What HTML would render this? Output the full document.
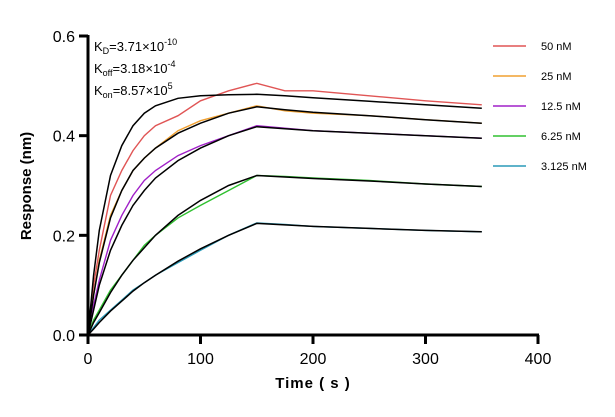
<!DOCTYPE html>
<html><head><meta charset="utf-8"><style>
body{margin:0;background:#fff;}
svg{font-family:"Liberation Sans",Arial,sans-serif;}
</style></head><body>
<svg id="chart" width="615" height="412" viewBox="0 0 615 412">
<g id="plot"></g>
<g id="axes"></g>
<g id="legend"></g>
<text x="94" y="51" font-size="13">K<tspan font-size="9" dy="3">D</tspan><tspan dy="-3">=3.71×10</tspan><tspan font-size="9" dy="-6">-10</tspan></text>
<text x="94" y="73" font-size="13">K<tspan font-size="9" dy="3">off</tspan><tspan dy="-3">=3.18×10</tspan><tspan font-size="9" dy="-6">-4</tspan></text>
<text x="94" y="95" font-size="13">K<tspan font-size="9" dy="3">on</tspan><tspan dy="-3">=8.57×10</tspan><tspan font-size="9" dy="-6">5</tspan></text>
</svg>
<script>
const times=[0,5,10,20,30,40,50,60,80,100,125,150,175,200,250,300,350];
const seriesNames=["50 nM","25 nM","12.5 nM","6.25 nM","3.125 nM"];
const seriesColors=["#e05555","#f0a030","#a020c8","#30c030","#2a9ab8"];
const data50=[0,0.1,0.17,0.28,0.33,0.37,0.40,0.42,0.44,0.47,0.49,0.505,0.49,0.49,0.48,0.47,0.462];
const data25=[0,0.08,0.15,0.24,0.29,0.33,0.355,0.375,0.41,0.43,0.445,0.46,0.45,0.445,0.44,0.432,0.425];
const data12=[0,0.06,0.11,0.19,0.24,0.28,0.31,0.33,0.36,0.38,0.40,0.42,0.415,0.41,0.405,0.40,0.395];
const data6=[0,0.03,0.05,0.09,0.12,0.15,0.18,0.2,0.235,0.26,0.29,0.32,0.318,0.315,0.31,0.303,0.298];
const data3=[0,0.015,0.03,0.05,0.07,0.09,0.105,0.12,0.145,0.17,0.2,0.225,0.222,0.218,0.214,0.21,0.207];
const fit50=[0,0.12,0.21,0.32,0.38,0.42,0.445,0.46,0.475,0.48,0.482,0.483,0.48,0.476,0.469,0.462,0.455];
const fit25=[0,0.08,0.145,0.235,0.29,0.33,0.355,0.375,0.405,0.425,0.445,0.458,0.452,0.447,0.44,0.432,0.425];
const fit12=[0,0.05,0.1,0.17,0.22,0.26,0.29,0.315,0.35,0.375,0.4,0.418,0.414,0.41,0.405,0.4,0.395];
const fit6=[0,0.025,0.045,0.085,0.12,0.15,0.175,0.2,0.24,0.27,0.3,0.32,0.317,0.314,0.309,0.303,0.298];
const fit3=[0,0.012,0.025,0.048,0.068,0.088,0.105,0.12,0.148,0.173,0.2,0.224,0.221,0.218,0.214,0.21,0.207];
const xTicks=[0,100,200,300,400];
const yTicks=[0,0.2,0.4,0.6];
const yTickLabels=["0.0","0.2","0.4","0.6"];
const allData=[data50,data25,data12,data6,data3];
const allFits=[fit50,fit25,fit12,fit6,fit3];
const NS="http://www.w3.org/2000/svg";
const X0=88,X1=538,Y0=335,Y1=36;
function xs(t){return X0+(t/400)*(X1-X0);}
function ys(v){return Y0-(v/0.6)*(Y0-Y1);}
function mk(tag,attrs,parent){const e=document.createElementNS(NS,tag);for(const k in attrs)e.setAttribute(k,attrs[k]);parent.appendChild(e);return e;}
const plot=document.getElementById('plot'),axes=document.getElementById('axes'),legend=document.getElementById('legend');
function path(arr){return arr.map((v,i)=>(i?'L':'M')+xs(times[i]).toFixed(1)+','+ys(v).toFixed(1)).join('');}
allData.forEach((arr,i)=>{
 const p=mk('path',{d:path(arr),fill:'none',stroke:seriesColors[i],'stroke-width':1.4},plot);
 
 
});
allFits.forEach((arr,i)=>{
 const p=mk('path',{d:path(arr),fill:'none',stroke:'#000','stroke-width':1.5},plot);
 
 
});
const xa=mk('line',{x1:X0-1,y1:Y0,x2:X1+1,y2:Y0,stroke:'#000','stroke-width':3},axes);


const ya=mk('line',{x1:X0,y1:Y0+1,x2:X0,y2:Y1-1,stroke:'#000','stroke-width':3},axes);


xTicks.forEach(t=>{
 const l=mk('line',{x1:xs(t),y1:Y0,x2:xs(t),y2:Y0+9,stroke:'#000','stroke-width':3},axes);
 
 
 const tx=mk('text',{x:xs(t),y:Y0+29,'font-size':16,'text-anchor':'middle'},axes);
 tx.textContent=t;
 
 
});
yTicks.forEach((v,i)=>{
 const l=mk('line',{x1:X0-9,y1:ys(v),x2:X0,y2:ys(v),stroke:'#000','stroke-width':3},axes);
 
 
 const tx=mk('text',{x:X0-13,y:ys(v)+6,'font-size':16,'text-anchor':'end'},axes);
 tx.textContent=yTickLabels[i];
 
 
});
const xt=mk('text',{x:313,y:388,'font-size':15,'font-weight':'bold','text-anchor':'middle','letter-spacing':'1'},axes);
xt.textContent='Time ( s )';


const yt=mk('text',{x:0,y:0,'font-size':15,'font-weight':'bold','text-anchor':'middle',transform:'translate(31,186) rotate(-90)'},axes);
yt.textContent='Response (nm)';


seriesNames.forEach((n,i)=>{
 const y=46+i*30;
 const g=mk('g',{},legend);
 
 
 mk('line',{x1:493,y1:y,x2:526,y2:y,stroke:seriesColors[i],'stroke-width':1.5},g);
 const tx=mk('text',{x:541,y:y+4,'font-size':11},g);
 tx.textContent=n;
});
</script>
</body></html>
